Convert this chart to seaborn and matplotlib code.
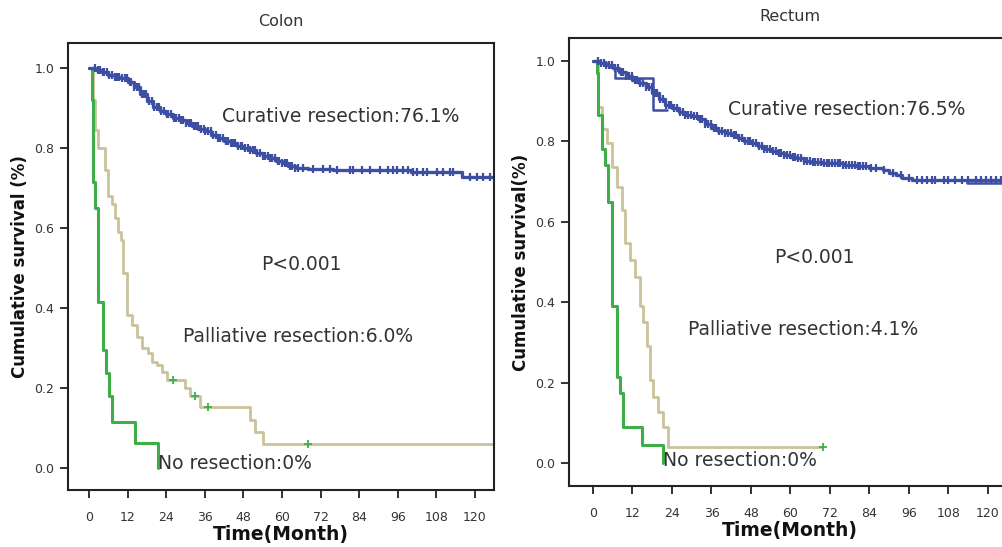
import numpy as np
import pandas as pd
import matplotlib
matplotlib.use("Agg")
import matplotlib.pyplot as plt
import seaborn as sns

# ---------------- data ----------------
# Colon
colon_cur_t = [0, 2, 4, 6, 8, 10, 12, 14, 16, 18, 20, 22, 24, 26, 28, 30, 32, 34, 36, 38, 40,
               42, 44, 46, 48, 50, 52, 54, 56, 58, 60, 62, 64, 68, 76, 84, 100, 116, 127]
colon_cur_s = [1.0, 0.995, 0.99, 0.982, 0.978, 0.975, 0.965, 0.952, 0.935, 0.918, 0.902, 0.892,
               0.884, 0.876, 0.87, 0.862, 0.855, 0.848, 0.842, 0.832, 0.824, 0.818, 0.812, 0.806,
               0.80, 0.795, 0.788, 0.78, 0.775, 0.768, 0.762, 0.755, 0.75, 0.748, 0.746, 0.744,
               0.741, 0.728, 0.728]
colon_cur_cens = [1.8, 2.7, 3.3, 4.2, 4.8, 5.7, 6.3, 7.1, 8.0, 8.6, 9.4, 10.3, 11.1, 11.7, 12.6,
                  13.2, 14.1, 14.9, 15.5, 16.4, 17.2, 17.8, 18.7, 19.5, 20.1, 21.0, 21.8, 22.4,
                  23.3, 24.1, 24.7, 25.6, 26.4, 27.0, 27.9, 28.7, 29.3, 30.2, 31.0, 31.6, 32.5,
                  33.3, 33.9, 34.8, 35.6, 36.2, 37.1, 37.9, 38.5, 39.4, 40.2, 40.8, 41.7, 42.5,
                  43.1, 44.0, 44.8, 45.4, 46.3, 47.1, 47.7, 48.6, 49.4, 50.0, 50.9, 51.7, 52.3,
                  53.2, 54.0, 54.6, 55.5, 56.3, 56.9, 57.8, 58.6, 59.2, 60.1, 60.9, 61.5, 62.4,
                  63.2, 64.1, 65.0, 66.6, 69.7, 72.8, 74.9, 77.0, 81.1, 82.2, 84.8, 87.4, 90.5,
                  93.0, 94.6, 95.7, 97.7, 99.3, 100.8, 101.9, 103.9, 105.0, 108.1, 110.2, 112.2,
                  113.3, 118.4, 120.5, 122.6, 124.7]
colon_pal_t = [0, 1.2, 2.0, 2.9, 5.0, 5.9, 7.0, 8.1, 9.1, 10.0, 10.7, 11.7, 13.3, 14.8, 16.4,
               18.4, 19.5, 21.0, 22.6, 24.1, 29.8, 31.4, 34.5, 50.0, 51.6, 54.0, 127]
colon_pal_s = [1.0, 0.92, 0.845, 0.80, 0.745, 0.68, 0.66, 0.625, 0.59, 0.57, 0.487, 0.383,
               0.357, 0.328, 0.30, 0.287, 0.266, 0.258, 0.241, 0.22, 0.20, 0.18, 0.153, 0.12,
               0.09, 0.06, 0.06]
colon_pal_cens = [26.2, 33.0, 37.0, 68.0]
colon_nores_t = [0, 0.8, 1.1, 1.9, 2.9, 4.2, 5.3, 6.3, 7.2, 14.3, 21.5]
colon_nores_s = [1.0, 0.92, 0.715, 0.65, 0.415, 0.295, 0.237, 0.18, 0.116, 0.062, 0.0]

# Rectum
rect_cur_t = [0, 2, 4, 6, 8, 10, 12, 14, 16, 18, 20, 22, 24, 26, 28, 30, 32, 34, 36, 38, 40,
              42, 44, 46, 48, 50, 52, 54, 56, 58, 60, 62, 64, 66, 70, 76, 80, 84, 88, 90, 92,
              94, 97, 128]
rect_cur_s = [1.0, 0.995, 0.99, 0.983, 0.972, 0.962, 0.952, 0.945, 0.935, 0.92, 0.905, 0.89,
              0.882, 0.872, 0.866, 0.862, 0.855, 0.842, 0.832, 0.826, 0.82, 0.815, 0.808, 0.80,
              0.795, 0.788, 0.78, 0.775, 0.77, 0.766, 0.762, 0.758, 0.752, 0.748, 0.745, 0.742,
              0.738, 0.733, 0.728, 0.722, 0.716, 0.71, 0.705, 0.705]
rect_cur_alt_t = [5.0, 6.7, 12.5, 18.2, 22.5]
rect_cur_alt_s = [0.985, 0.957, 0.957, 0.878, 0.878]
rect_cur_tail_t = [108, 113.6, 128]
rect_cur_tail_s = [0.705, 0.696, 0.696]
rect_cur_cens = [1.5, 2.4, 3.2, 4.1, 5.0, 5.8, 6.7, 7.5, 8.4, 9.2, 10.1, 11.0, 11.8, 12.7,
                 13.5, 14.4, 15.2, 16.1, 17.0, 17.8, 18.7, 19.5, 20.4, 21.2, 22.1, 23.0, 23.8,
                 24.7, 25.5, 26.4, 27.2, 28.1, 29.0, 29.8, 30.7, 31.5, 32.4, 33.2, 34.1, 35.0,
                 35.8, 36.7, 37.5, 38.4, 39.2, 40.1, 41.0, 41.8, 42.7, 43.5, 44.4, 45.2, 46.1,
                 47.0, 47.8, 48.7, 49.5, 50.4, 51.2, 52.1, 53.0, 53.8, 54.7, 55.5, 56.4, 57.2,
                 58.1, 59.0, 59.8, 60.7, 61.5, 62.4, 63.2, 64.1, 65.0, 65.8, 66.7, 67.5, 68.4,
                 69.2, 70.1, 71.0, 71.8, 72.7, 73.5, 74.4, 75.2, 76.1, 77.0, 77.8, 78.7, 79.5,
                 80.4, 81.2, 82.1, 83.0, 84.5, 86.0, 88.5, 91.0, 93.5, 96.0, 98.5, 100.0,
                 101.5, 103.0, 104.0, 106.5, 108.0, 110.0, 112.0, 114.0, 116.5, 118.0, 119.5,
                 121.0, 122.5, 124.0, 125.5]
rect_pal_t = [0, 1.5, 2.7, 4.2, 5.7, 7.2, 8.8, 9.7, 11.2, 12.7, 14.3, 15.3, 16.4, 17.3, 18.3,
              19.8, 21.3, 22.8, 70.0]
rect_pal_s = [1.0, 0.886, 0.83, 0.796, 0.737, 0.687, 0.63, 0.547, 0.505, 0.463, 0.39, 0.35,
              0.29, 0.207, 0.165, 0.127, 0.09, 0.041, 0.041]
rect_pal_cens = [70.0]
rect_nores_t = [0, 1.2, 1.5, 2.6, 3.6, 4.6, 5.7, 7.2, 8.2, 9.2, 14.9, 21.3]
rect_nores_s = [1.0, 0.97, 0.866, 0.78, 0.74, 0.65, 0.39, 0.215, 0.174, 0.09, 0.045, 0.0]

x_ticks = [0, 12, 24, 36, 48, 60, 72, 84, 96, 108, 120]
y_ticks = [0.0, 0.2, 0.4, 0.6, 0.8, 1.0]
y_ticklabels = ["0.0", "0.2", "0.4", "0.6", "0.8", "1.0"]
titles = ["Colon", "Rectum"]
ylabels = ["Cumulative survival (%)", "Cumulative survival(%)"]
xlabel = "Time(Month)"
colon_notes = ["Curative resection:76.1%", "P<0.001", "Palliative resection:6.0%", "No resection:0%"]
rect_notes = ["Curative resection:76.5%", "P<0.001", "Palliative resection:4.1%", "No resection:0%"]

# ---------------- style ----------------
sns.set_style("white")
plt.rcParams["font.family"] = ["DejaVu Sans"]

BLUE = "#3d4fa3"
TAN = "#c9c29a"
GREEN = "#3fae49"
TXT = "#333333"

fig = plt.figure(figsize=(10.02, 5.47), dpi=100)
ax1 = fig.add_axes([68 / 1002, 57 / 547, 426 / 1002, 447 / 547])
ax2 = fig.add_axes([569 / 1002, 61 / 547, 441 / 1002, 448 / 547])


def step_value(ts, ss, c):
    ts = np.asarray(ts); ss = np.asarray(ss)
    i = np.searchsorted(ts, c, side="right") - 1
    return ss[i]


def draw_step(ax, t, s, color, lw):
    df = pd.DataFrame({"t": t, "s": s})
    sns.lineplot(data=df, x="t", y="s", ax=ax, color=color, lw=lw, drawstyle="steps-post",
                 estimator=None, sort=False, legend=False)


def draw_cens(ax, t, s, cens, color, marker, size, mew):
    cv = [step_value(t, s, c) for c in cens]
    df = pd.DataFrame({"t": cens, "s": cv})
    sns.scatterplot(data=df, x="t", y="s", ax=ax, marker=marker, s=size, color=color,
                    linewidth=mew, legend=False, zorder=5)


# Colon
draw_step(ax1, colon_pal_t, colon_pal_s, TAN, 2.0)
draw_step(ax1, colon_nores_t, colon_nores_s, GREEN, 2.2)
draw_step(ax1, colon_cur_t, colon_cur_s, BLUE, 2.4)
draw_cens(ax1, colon_cur_t, colon_cur_s, colon_cur_cens, BLUE, "|", 40, 1.6)
draw_cens(ax1, colon_pal_t, colon_pal_s, colon_pal_cens, GREEN, "+", 40, 1.3)

# Rectum
draw_step(ax2, rect_pal_t, rect_pal_s, TAN, 2.0)
draw_step(ax2, rect_nores_t, rect_nores_s, GREEN, 2.2)
draw_step(ax2, rect_cur_t, rect_cur_s, BLUE, 2.4)
draw_step(ax2, rect_cur_alt_t, rect_cur_alt_s, BLUE, 1.8)
draw_step(ax2, rect_cur_tail_t, rect_cur_tail_s, BLUE, 1.8)
draw_cens(ax2, rect_cur_t, rect_cur_s, rect_cur_cens, BLUE, "|", 40, 1.6)
draw_cens(ax2, rect_pal_t, rect_pal_s, rect_pal_cens, GREEN, "+", 40, 1.3)

limits = [((-6.53, 125.9), (-0.055, 1.0625)), ((-7.29, 126.7), (-0.057, 1.057))]
note_pos = [
    [(41.3, 0.88, "left"), (65.9, 0.51, "center"), (29.2, 0.33, "left"), (21.5, 0.012, "left")],
    [(41.0, 0.878, "left"), (67.4, 0.512, "center"), (28.9, 0.331, "left"), (21.3, 0.007, "left")],
]
for k, (ax, notes) in enumerate([(ax1, colon_notes), (ax2, rect_notes)]):
    ax.set_xlim(*limits[k][0])
    ax.set_ylim(*limits[k][1])
    ax.set_xticks(x_ticks)
    ax.set_xticklabels([str(v) for v in x_ticks], fontsize=9, color=TXT)
    ax.set_yticks(y_ticks)
    ax.set_yticklabels(y_ticklabels, fontsize=9, color=TXT)
    ax.tick_params(axis="both", direction="out", length=6, width=1.3, color="#222222",
                   left=True, bottom=True, pad=4)
    ax.tick_params(axis="x", pad=9)
    for sp in ax.spines.values():
        sp.set_visible(True)
        sp.set_color("#222222")
        sp.set_linewidth(1.5)
    ax.set_xlabel(xlabel, fontsize=13.5, fontweight="bold", color="#111111", labelpad=1)
    ax.set_ylabel(ylabels[k], fontsize=12, fontweight="bold", color="#111111", labelpad=4)
    ax.set_title(titles[k], fontsize=11.5, color=TXT, pad=12)
    for (x, y, ha), txt in zip(note_pos[k], notes):
        ax.text(x, y, txt, fontsize=13.5, color=TXT, ha=ha, va="center")

fig.savefig("out.png", dpi=100)
